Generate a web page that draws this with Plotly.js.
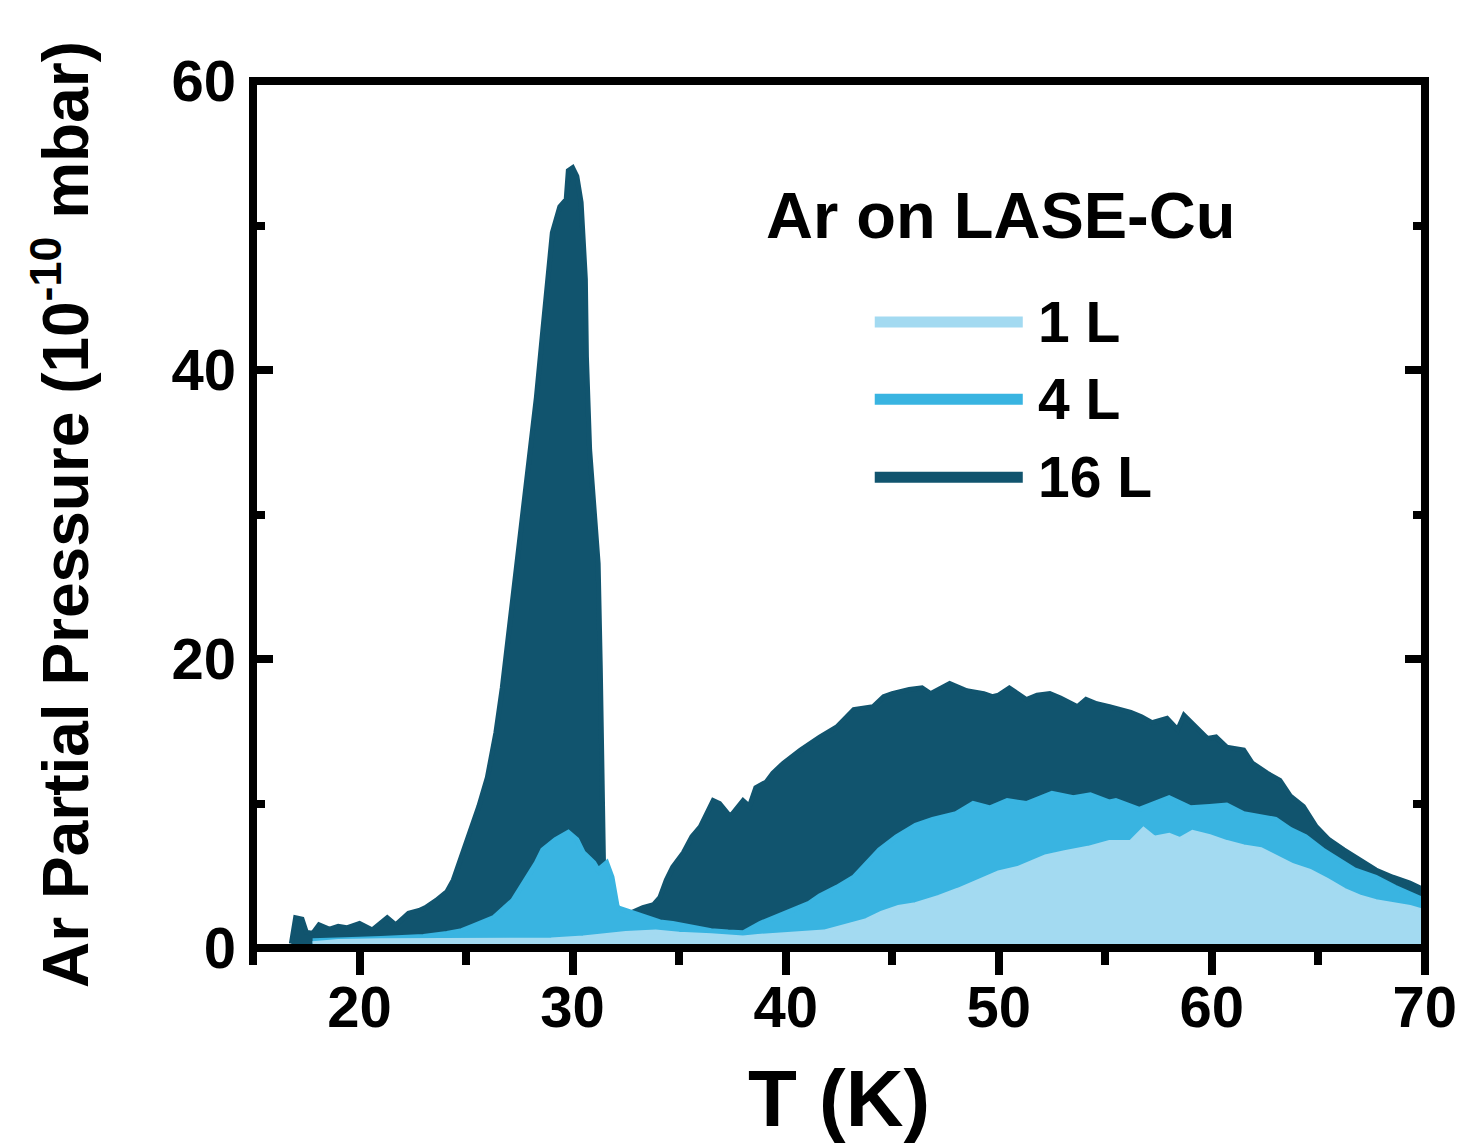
<!DOCTYPE html>
<html>
<head>
<meta charset="utf-8">
<script src="https://cdn.plot.ly/plotly-3.0.1.min.js"></script>
<style>html,body{margin:0;padding:0;background:#fff;}#chart{width:1457px;height:1143px;}</style>
</head>
<body>
<div id="chart"></div>
<script>
// ---- Data ----
const T16 = [16.8,17.0,17.3,17.5,17.8,18.1,18.6,19.0,19.4,20.0,20.6,21.3,21.7,22.3,22.8,23.1,23.6,24.1,24.4,24.7,25.3,25.6,26.0,26.4,26.7,27.2,27.65,28.0,28.3,28.6,28.8,29.05,29.4,29.7,29.8,30.0,30.2,30.4,30.6,30.65,30.8,31.0,31.2,31.3,31.4,31.45,31.55,31.8,32.2,32.7,33.3,33.8,34.1,34.4,34.7,35.2,35.6,36.0,36.6,36.9,37.4,38.0,38.3,38.6,39.1,39.4,39.9,40.7,41.6,42.4,43.2,44.1,44.6,45.0,45.8,46.4,46.8,47.2,47.7,48.5,49.3,49.7,50.0,50.5,50.7,51.3,51.8,52.4,52.9,53.5,53.7,54.1,54.6,55.2,55.5,56.2,56.7,57.2,57.9,58.4,58.7,59.3,59.8,60.2,60.7,61.5,61.9,62.6,63.2,63.7,64.3,64.9,65.5,66.2,66.9,67.7,68.5,69.3,70.0];
const P16 = [0.3,2.1,2.0,1.1,1.0,1.6,1.3,1.5,1.4,1.7,1.25,2.1,1.6,2.4,2.6,2.8,3.3,3.9,4.7,6.0,8.4,9.8,11.8,14.9,18.0,24.1,30.2,34.5,38.1,42.7,46.0,49.5,51.3,51.8,53.8,54.0,53.4,51.6,46.3,40.9,34.5,30.2,26.6,19.4,12.3,5.9,5.5,3.5,2.6,2.4,2.8,3.0,3.5,4.7,5.6,6.6,7.7,8.4,10.2,10.0,9.1,10.2,9.8,11.1,11.5,12.1,12.8,13.7,14.6,15.3,16.5,16.7,17.4,17.6,17.9,18.0,17.6,17.9,18.3,17.8,17.6,17.4,17.5,18.0,17.8,17.2,17.5,17.6,17.3,16.8,16.7,17.2,16.9,16.7,16.6,16.3,16.0,15.6,15.9,15.1,16.1,15.2,14.5,14.6,13.9,13.7,12.8,12.1,11.6,10.5,9.8,8.4,7.5,6.8,6.1,5.4,4.9,4.5,4.0];

const T4 = [17.8,19.0,20.0,21.0,22.0,23.0,24.1,24.8,25.3,26.3,27.2,27.8,28.3,28.6,29.2,29.8,30.2,30.5,31.0,31.2,31.6,31.85,32.1,32.7,33.6,34.1,34.7,35.5,36.5,37.3,38.0,38.8,39.5,40.3,40.7,41.1,41.6,42.4,43.2,43.8,44.4,45.2,46.1,46.9,48.0,48.8,49.6,50.4,51.3,52.5,53.5,54.3,55.2,55.5,56.6,58.0,59.0,59.9,60.7,61.5,62.3,63.0,63.7,64.4,65.2,65.9,66.7,67.7,68.6,70.0];
const P4 = [0.5,0.6,0.6,0.65,0.7,0.8,1.0,1.2,1.5,2.1,3.3,4.7,5.9,6.8,7.5,8.0,7.5,6.6,5.9,5.4,5.9,4.9,2.8,2.5,2.1,1.8,1.7,1.5,1.2,1.1,1.05,1.7,2.1,2.6,2.8,3.1,3.6,4.2,4.9,5.9,6.8,7.7,8.5,8.9,9.3,10.0,9.7,10.2,10.0,10.7,10.4,10.6,10.1,10.2,9.6,10.4,9.7,9.8,9.9,9.3,9.1,8.9,8.2,7.7,6.8,6.1,5.4,4.9,4.2,3.3];

const T1 = [17.8,19.0,21.0,23.0,25.0,27.0,29.0,30.5,31.6,32.5,33.9,35.0,36.5,38.0,38.7,40.0,40.7,41.8,42.8,43.8,44.5,45.3,46.1,47.2,48.1,49.1,50.0,50.9,51.8,52.2,53.1,54.2,55.2,56.2,56.8,57.3,58.0,58.5,59.1,59.9,60.7,61.5,62.3,63.0,63.8,64.6,65.4,66.2,67.0,67.7,68.5,69.3,70.0];
const P1 = [0.3,0.45,0.5,0.5,0.5,0.5,0.55,0.7,0.9,1.0,1.1,0.95,0.85,0.7,0.8,0.9,0.95,1.1,1.5,1.9,2.4,2.8,3.0,3.5,4.0,4.6,5.2,5.5,6.1,6.3,6.6,6.9,7.3,7.3,8.2,7.6,7.8,7.5,8.0,7.7,7.3,7.0,6.8,6.3,5.7,5.3,4.7,4.0,3.5,3.2,3.0,2.8,2.5];

const seriesNames = ['1 L', '4 L', '16 L'];
const xTickVals = [20, 30, 40, 50, 60, 70];
const yTickVals = [0, 20, 40, 60];

// ---- Styling ----
const C1 = '#a3daf1', C4 = '#39b4e1', C16 = '#11546e';
const FONT = 'Liberation Sans, Arial, Helvetica, sans-serif';

function area(x, y, color, name) {
  return {
    x: x, y: y, type: 'scatter', mode: 'lines', name: name,
    fill: 'tozeroy', fillcolor: color,
    line: {color: color, width: 5, shape: 'linear'},
    showlegend: false, hoverinfo: 'skip', cliponaxis: true
  };
}

const data = [
  area(T16, P16, C16, seriesNames[2]),
  area(T4, P4, C4, seriesNames[1]),
  area(T1, P1, C1, seriesNames[0])
];

// legend drawn as paper-space shapes + text
const legColors = [C1, C4, C16];
const legY = [0.722, 0.633, 0.543];
const shapes = [{
  type: 'rect', xref: 'paper', yref: 'paper', x0: 0, x1: 1, y0: 0, y1: 1,
  line: {color: '#000', width: 8}, fillcolor: 'rgba(0,0,0,0)', layer: 'above'
}];
const annotations = [{
  xref: 'paper', yref: 'paper', x: 0.638, y: 0.845, xanchor: 'center', yanchor: 'middle',
  text: 'Ar on LASE-Cu', showarrow: false,
  font: {family: FONT, size: 65, color: '#000', weight: 'bold'}
}];
for (let i = 0; i < 3; i++) {
  shapes.push({
    type: 'line', xref: 'paper', yref: 'paper', x0: 0.5305, x1: 0.6568, y0: legY[i], y1: legY[i],
    line: {color: legColors[i], width: 11}
  });
  annotations.push({
    xref: 'paper', yref: 'paper', x: 0.668, y: legY[i], xanchor: 'left', yanchor: 'middle',
    text: seriesNames[i], showarrow: false,
    font: {family: FONT, size: 57, color: '#000', weight: 'bold'}
  });
}

const tickFont = {family: FONT, size: 58, color: '#000', weight: 'bold'};

const layout = {
  width: 1457, height: 1143,
  paper_bgcolor: '#fff', plot_bgcolor: '#fff',
  margin: {l: 253, r: 32, t: 81, b: 195, pad: 0},
  showlegend: false,
  xaxis: {
    range: [15, 70.01], tickvals: xTickVals, ticktext: xTickVals.map(String),
    ticks: 'outside', ticklen: 26, tickwidth: 8, tickcolor: '#000',
    minor: {dtick: 5, tick0: 0, ticks: 'outside', ticklen: 16, tickwidth: 8, tickcolor: '#000', showgrid: false},
    showline: false, showgrid: false, zeroline: false,
    tickfont: tickFont, ticklabeloverflow: 'allow', ticklabelstandoff: -18,
    title: {text: 'T (K)', font: {family: FONT, size: 80, color: '#000', weight: 'bold'}, standoff: 34}
  },
  xaxis2: {
    overlaying: 'x', side: 'top', range: [15, 70.01], tickvals: xTickVals,
    ticks: 'inside', ticklen: 21, tickwidth: 8, tickcolor: '#000',
    minor: {dtick: 5, tick0: 0, ticks: 'inside', ticklen: 12, tickwidth: 8, tickcolor: '#000', showgrid: false},
    showticklabels: false, showline: false, showgrid: false, zeroline: false
  },
  yaxis: {
    range: [0, 60], tickvals: yTickVals, ticktext: yTickVals.map(String),
    ticks: 'inside', ticklen: 20, tickwidth: 8, tickcolor: '#000', mirror: 'ticks',
    minor: {dtick: 10, tick0: 0, ticks: 'inside', ticklen: 12, tickwidth: 8, tickcolor: '#000', showgrid: false},
    showline: false, showgrid: false, zeroline: false,
    tickfont: tickFont, ticklabeloverflow: 'allow', ticklabelstandoff: 16,
    title: {text: 'Ar Partial Pressure (10<sup>-10</sup> mbar)', font: {family: FONT, size: 64, color: '#000', weight: 'bold'}, standoff: 62}
  },
  shapes: shapes,
  annotations: annotations
};

Plotly.newPlot('chart', data, layout, {staticPlot: true, displayModeBar: false});
</script>
</body>
</html>
